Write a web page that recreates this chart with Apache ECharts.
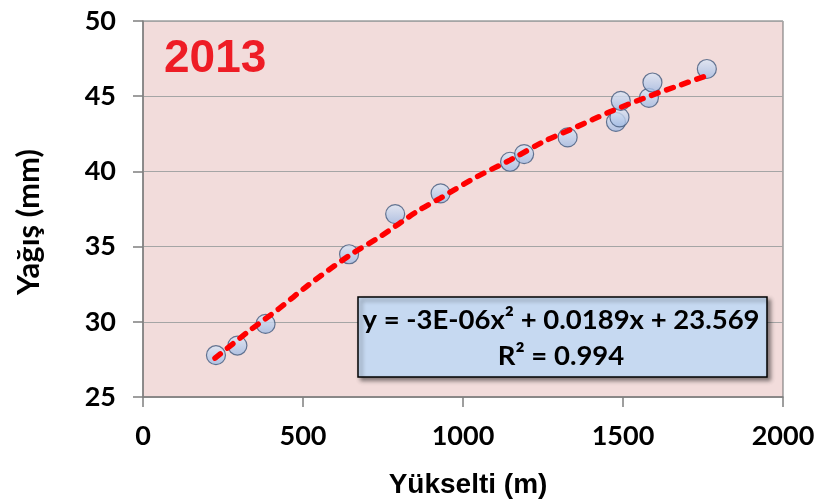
<!DOCTYPE html>
<html>
<head>
<meta charset="utf-8">
<script src="https://cdn.jsdelivr.net/npm/echarts@6/dist/echarts.min.js"></script>
<style>
html,body{margin:0;padding:0;background:#fff;}
#c{width:820px;height:504px;}
</style>
</head>
<body>
<div id="c"></div>
<script>
// Observed stations: elevation (m) and precipitation (mm)
const elevation = [228, 295, 383, 644, 788, 930, 1147, 1191, 1327, 1478, 1489, 1493, 1581, 1592, 1762];
const precip    = [27.78, 28.42, 29.86, 34.49, 37.16, 38.54, 40.64, 41.15, 42.26, 43.29, 43.59, 44.69, 44.89, 45.91, 46.81];
// Trend line
const trendX = [225, 329, 423, 517, 647, 741, 855, 928, 1043, 1147, 1251, 1355, 1459, 1563, 1668, 1760];
const trendY = [27.58, 29.35, 30.84, 32.45, 34.44, 35.66, 37.32, 38.21, 39.64, 40.75, 41.97, 42.96, 43.96, 44.85, 45.66, 46.35];
const xTicks = [0, 500, 1000, 1500, 2000];
const yTicks = [25, 30, 35, 40, 45, 50];
const yearLabel = '2013';
const xTitle = 'Yükselti (m)';
const yTitle = 'Yağış (mm)';
const eqLine1 = 'y = -3E-06x² + 0.0189x + 23.569';
const eqLine2 = 'R² = 0.994';

const chart = echarts.init(document.getElementById('c'), null, {renderer: 'canvas'});
const lblFont = 'Lato, "Open Sans", sans-serif';
const scatterData = elevation.map((x, i) => [x, precip[i]]);
const trendData = trendX.map((x, i) => [x, trendY[i]]);

chart.setOption({
  animation: false,
  backgroundColor: '#ffffff',
  grid: {left: 143, top: 21, right: 37, bottom: 107, show: true, backgroundColor: '#f2dcdb', borderColor: '#6f6f6f', borderWidth: 1},
  xAxis: {
    type: 'value', min: xTicks[0], max: xTicks[xTicks.length - 1], interval: 500,
    axisLine: {show: true, lineStyle: {color: '#7f7f7f', width: 1.5}},
    axisTick: {show: true, length: 10, lineStyle: {color: '#7f7f7f', width: 1.5}},
    splitLine: {show: false},
    axisLabel: {fontFamily: lblFont, fontWeight: 'bold', fontSize: 27, color: '#000', margin: 26,
                formatter: v => String(v)}
  },
  yAxis: {
    type: 'value', min: yTicks[0], max: yTicks[yTicks.length - 1], interval: 5,
    axisLine: {show: true, lineStyle: {color: '#7f7f7f', width: 1.5}},
    axisTick: {show: true, length: 10, lineStyle: {color: '#7f7f7f', width: 1.5}},
    splitLine: {show: true, lineStyle: {color: '#a5a5a5', width: 1.2}},
    axisLabel: {fontFamily: lblFont, fontWeight: 'bold', fontSize: 27, color: '#000', margin: 27,
                formatter: v => String(v)}
  },
  series: [
    {
      type: 'scatter', data: scatterData, symbol: 'circle', symbolSize: 19, z: 2,
      itemStyle: {
        color: {type: 'linear', x: 0, y: 0, x2: 0, y2: 1, colorStops: [{offset: 0, color: '#dfe8f6'}, {offset: 1, color: '#9fb9e2'}]},
        borderColor: '#42597c', borderWidth: 1.2
      }
    },
    {
      type: 'line', data: trendData, smooth: 0.3, showSymbol: false, z: 3,
      lineStyle: {color: '#ff0000', width: 5.5, type: [7, 9], cap: 'round'}
    }
  ],
  graphic: [
    {type: 'text', left: 164, top: 36, z: 10,
     style: {text: yearLabel, fill: '#ee1c25', font: 'bold 46px "Liberation Sans", Arial, sans-serif'}},
    {type: 'rect', shape: {x: 358, y: 297, width: 409, height: 80}, z: 10,
     style: {fill: '#c6d9f1', stroke: '#000', lineWidth: 1.5, shadowBlur: 4, shadowOffsetX: 3, shadowOffsetY: 3, shadowColor: 'rgba(0,0,0,0.45)'}},
    {type: 'text', x: 561, y: 320, z: 11,
     style: {text: eqLine1, fill: '#000', font: 'bold 27.5px Lato, "Open Sans", sans-serif', textAlign: 'center', textVerticalAlign: 'middle'}},
    {type: 'text', x: 561, y: 356, z: 11,
     style: {text: eqLine2, fill: '#000', font: 'bold 27.5px Lato, "Open Sans", sans-serif', textAlign: 'center', textVerticalAlign: 'middle'}},
    {type: 'text', x: 468, y: 485, z: 10,
     style: {text: xTitle, fill: '#000', font: 'bold 28px "Liberation Sans", Arial, sans-serif', textAlign: 'center', textVerticalAlign: 'middle'}},
    {type: 'text', x: 29, y: 222, rotation: Math.PI / 2, z: 10,
     style: {text: yTitle, fill: '#000', font: 'bold 31px Lato, "Open Sans", sans-serif', textAlign: 'center', textVerticalAlign: 'middle'}}
  ]
});
</script>
</body>
</html>
